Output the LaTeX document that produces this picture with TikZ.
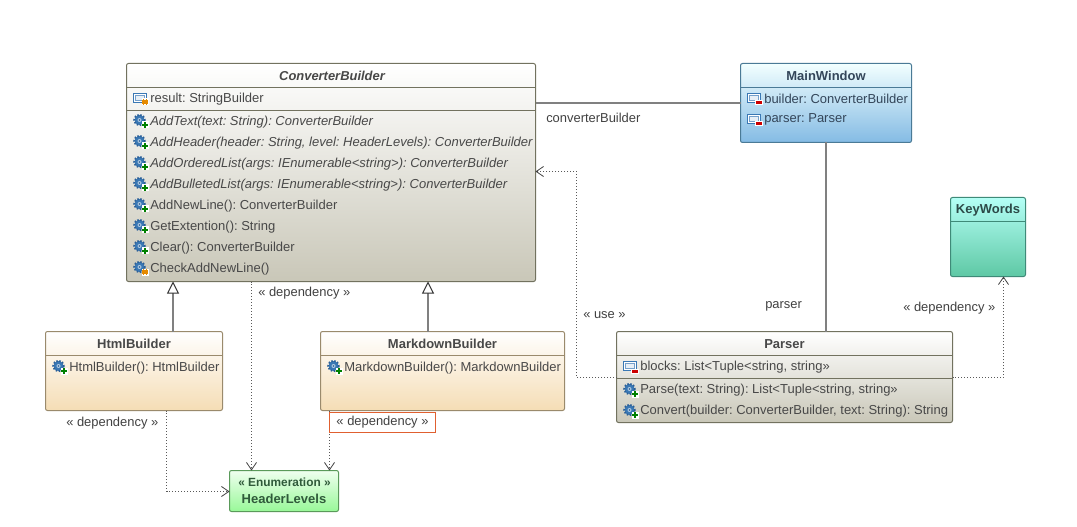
\documentclass[tikz,border=0pt]{standalone}
\usepackage{fontspec}
\setmainfont{Liberation Sans}
\usetikzlibrary{arrows.meta,calc}
\frenchspacing
\definecolor{txt}{HTML}{484848}
\definecolor{gearblue}{HTML}{3A78B4}
\definecolor{gearedge}{HTML}{2A5F98}
\definecolor{botgray}{HTML}{C9C7B8}
\definecolor{botorange}{HTML}{F5DDB5}
\definecolor{botgreen}{HTML}{98F898}
\definecolor{botblue}{HTML}{84BBE4}
\definecolor{botteal}{HTML}{5EC8A4}
\definecolor{topgreen}{HTML}{EFFFEF}
\definecolor{topblue}{HTML}{F2FFFF}
\definecolor{topteal}{HTML}{B4FFF6}
\definecolor{edgegray}{HTML}{72725F}
\definecolor{edgeorange}{HTML}{9A8A6C}
\definecolor{edgegreen}{HTML}{5A9A5A}
\definecolor{edgeblue}{HTML}{4A7A96}
\definecolor{edgeteal}{HTML}{3F8A78}
\definecolor{bluetext}{HTML}{34465A}
\definecolor{tealtext}{HTML}{2C4A48}
\definecolor{greentext}{HTML}{2F5A3A}
\definecolor{labelbox}{HTML}{E06030}
\newcommand{\umlbox}[8]{\node[boxbase,draw=#7,top color=#8,bottom color=#2,minimum width={(#5-#3)*.75pt},minimum height={(#6-#4)*.75pt}] (#1) at ({(#3+#5)/2},{(#4+#6)/2}) {};}
\tikzset{
  x=.75pt,y=-.75pt,
  boxbase/.style={rectangle,rounded corners=1.5pt,line width=.75pt,inner sep=0pt,outer sep=0pt},
  rowtext/.style={anchor=west,inner sep=0pt,yshift=-.6pt,font=\fontsize{9.75}{11}\selectfont,text=txt},
  itrow/.style={rowtext,font=\fontsize{9.75}{11}\selectfont\itshape},
  titletext/.style={inner sep=0pt,yshift=-.4pt,font=\fontsize{9.75}{11}\selectfont\bfseries,text=#1},
  titletext/.default=txt,
  lbl/.style={anchor=west,inner sep=0pt,yshift=-.4pt,font=\fontsize{9.7}{11}\selectfont,text=txt!90!black},
  assoc/.style={draw=black!50,line width=1.5pt},
  inherit/.style={draw=black!50,line width=1.5pt,{Triangle[open,fill=white,length=9pt,width=9pt,line width=.75pt,color=black!80]}-},
  dep/.style={draw=black!65,line width=.75pt,dash pattern=on .75pt off 1.5pt,dash phase=.375pt,-{Straight Barb[length=5.5pt,width=7.5pt,line width=.6pt,color=black!75]}},
  pics/fieldbase/.style={code={
    \draw[draw=gearblue,fill=white,line width=.75pt] (-6.5,-4.5) rectangle (6.5,4.5);
    \draw[draw=gearblue!70,fill=gearblue!12,line width=.6pt] (-4.5,-2.5) rectangle (4.5,2);
  }},
  pics/gear/.style={code={
    \fill[gearblue] (-.5,-1) circle[radius=5];
    \draw[gearedge,line width=1.3pt,dash pattern=on 1.2pt off 1.2pt] (-.5,-1) circle[radius=5.4];
    \fill[white!60!gearblue] (-.5,-1) circle[radius=2];
    \fill[gearedge] (-.5,-1) circle[radius=.8];
  }},
  pics/priv/.style={code={
    \fill[white] (1,2.5) rectangle (9,7.5);
    \fill[red!80!black] (2,3.5) rectangle (8,6.5);
  }},
  pics/pub/.style={code={
    \fill[white] (1.5,0.5) rectangle (8.5,7.5);
    \fill[green!50!black] (4,1.2) rectangle (6,6.8);
    \fill[green!50!black] (2.2,3) rectangle (7.8,5);
  }},
  pics/prot/.style={code={
    \fill[white] (1.5,0.5) rectangle (8.5,7.5);
    \draw[orange!80!yellow!90!black,line width=.9pt] (3.8,1) -- (3.8,7) (6.2,1) -- (6.2,7) (2,3) -- (8,3) (2,5) -- (8,5);
  }}
}
\begin{document}
\begin{tikzpicture}
\useasboundingbox[fill=white] (0,0) rectangle (1077,527);
% class boxes
\umlbox{cb}{botgray}{126.5}{63.5}{535.5}{281.5}{edgegray}{white}
\umlbox{html}{botorange}{45.5}{331.5}{222.5}{410.5}{edgeorange}{white}
\umlbox{md}{botorange}{320.5}{331.5}{564.5}{410.5}{edgeorange}{white}
\umlbox{hl}{botgreen}{229.5}{470.5}{338.5}{511.5}{edgegreen}{topgreen}
\umlbox{parser}{botgray}{616.5}{331.5}{952.5}{422.5}{edgegray}{white}
\umlbox{mw}{botblue}{740.5}{63.5}{911.5}{142.5}{edgeblue}{topblue}
\umlbox{kw}{botteal}{950.5}{197.5}{1025.5}{276.5}{edgeteal}{topteal}
% compartments
\draw[edgegray,line width=.75pt]
  (cb.west |- 0,87.5) -- (cb.east |- 0,87.5)
  (cb.west |- 0,110.5) -- (cb.east |- 0,110.5)
  (parser.west |- 0,355.5) -- (parser.east |- 0,355.5)
  (parser.west |- 0,378.5) -- (parser.east |- 0,378.5);
\draw[edgeorange,line width=.75pt]
  (html.west |- 0,355.5) -- (html.east |- 0,355.5)
  (md.west |- 0,355.5) -- (md.east |- 0,355.5);
\draw[edgeblue,line width=.75pt] (mw.west |- 0,87.5) -- (mw.east |- 0,87.5);
\draw[edgeteal,line width=.75pt] (kw.west |- 0,221.5) -- (kw.east |- 0,221.5);
% titles
\node[titletext,font=\fontsize{9.7}{11}\selectfont\bfseries\itshape] (cbT) at (332,75.5) {ConverterBuilder};
\node[titletext] (htmlT) at (134,343.5) {HtmlBuilder};
\node[titletext] (mdT) at (442.5,343.5) {MarkdownBuilder};
\node[titletext] (parserT) at (784.5,343.5) {Parser};
\node[titletext=bluetext] (mwT) at (826,75.5) {MainWindow};
\node[titletext=tealtext] (kwT) at (988,209.5) {KeyWords};
\node[titletext=greentext,font=\fontsize{8.9}{10}\selectfont\bfseries] (hlS) at (284.5,482) {« Enumeration »};
\node[titletext=greentext] (hlT) at (284,498.5) {HeaderLevels};
% rows of ConverterBuilder
\pic at (140,98) {fieldbase}; \pic at (140,98) {prot};
\node[rowtext] (r0) at (150,98) {result: StringBuilder};
\foreach \yy/\nm/\lab in {121/r1/AddText(text: String): ConverterBuilder,
  142/r2/{AddHeader(header: String, level: HeaderLevels): ConverterBuilder},
  163/r3/{AddOrderedList(args: IEnumerable<string>): ConverterBuilder},
  184/r4/{AddBulletedList(args: IEnumerable<string>): ConverterBuilder}}{
  \pic at (140,\yy) {gear}; \pic at (140,\yy) {pub};
  \node[itrow] (\nm) at (150,\yy) {\lab};
}
\foreach \yy/\nm/\lab in {205/r5/AddNewLine(): ConverterBuilder,
  226/r6/GetExtention(): String,
  247/r7/Clear(): ConverterBuilder}{
  \pic at (140,\yy) {gear}; \pic at (140,\yy) {pub};
  \node[rowtext] (\nm) at (150,\yy) {\lab};
}
\pic at (140,268) {gear}; \pic at (140,268) {prot};
\node[rowtext] (r8) at (150,268) {CheckAddNewLine()};
% HtmlBuilder, MarkdownBuilder
\pic at (59,367) {gear}; \pic at (59,367) {pub};
\node[rowtext] (h1) at (69,367) {HtmlBuilder(): HtmlBuilder};
\pic at (334,367) {gear}; \pic at (334,367) {pub};
\node[rowtext] (m1) at (344,367) {MarkdownBuilder(): MarkdownBuilder};
% MainWindow
\pic at (754,98) {fieldbase}; \pic at (754,98) {priv};
\node[rowtext,text=bluetext] (w1) at (764,98) {builder: ConverterBuilder};
\pic at (754,119) {fieldbase}; \pic at (754,119) {priv};
\node[rowtext,text=bluetext] (w2) at (764,119) {parser: Parser};
% Parser
\pic at (630,366) {fieldbase}; \pic at (630,366) {priv};
\node[rowtext] (p1) at (640,366.5) {blocks: List<Tuple<string, string>>};
\pic at (630,390) {gear}; \pic at (630,390) {pub};
\node[rowtext] (p2) at (640,389.5) {Parse(text: String): List<Tuple<string, string>>};
\pic at (630,411) {gear}; \pic at (630,411) {pub};
\node[rowtext] (p3) at (640,410.5) {Convert(builder: ConverterBuilder, text: String): String};
% connector lanes
\coordinate (xa) at (173,0);
\coordinate (xb) at (428,0);
\coordinate (xc) at (251.5,0);
\coordinate (xd) at (166.5,0);
\coordinate (xe) at (329.5,0);
\coordinate (xf) at (826,0);
\coordinate (ya) at (0,103);
\coordinate (yb) at (0,377.5);
\coordinate (yc) at (0,491.5);
\coordinate (yd) at (0,171.5);
% connectors
\draw[assoc] (cb.east |- ya) -- (mw.west |- ya);
\draw[assoc] (mw.south -| xf) -- (parser.north -| xf);
\draw[inherit] (cb.south -| xa) -- (html.north -| xa);
\draw[inherit] (cb.south -| xb) -- (md.north -| xb);
\draw[dep] (cb.south -| xc) -- (hl.north -| xc);
\draw[dep] (html.south -| xd) -- (xd |- yc) -- (hl.west |- yc);
\draw[dep] (md.south -| xe) -- (hl.north -| xe);
\coordinate (ue) at (576.5,377.5);
\draw[dep] (parser.west |- yb) -- (ue) -- (ue |- yd) -- (cb.east |- yd);
\coordinate (kd) at (1003.5,377.5);
\draw[dep] (parser.east |- yb) -- (kd) -- (kw.south -| kd);
% connector labels
\node[lbl] (l1) at (546,117.5) {converterBuilder};
\node[lbl] (l2) at (765,306) {parser};
\node[lbl] (l3) at (258,293) {« dependency »};
\node[lbl] (l4) at (583,315) {« use »};
\node[lbl] (l5) at (903,308) {« dependency »};
\node[lbl] (l6) at (66,423) {« dependency »};
\node[lbl,draw=labelbox,fill=white,line width=.75pt,minimum width=79.5pt,minimum height=15pt,anchor=center,yshift=0pt] (l7) at (382.5,421.5) {« dependency »};
\end{tikzpicture}
\end{document}
